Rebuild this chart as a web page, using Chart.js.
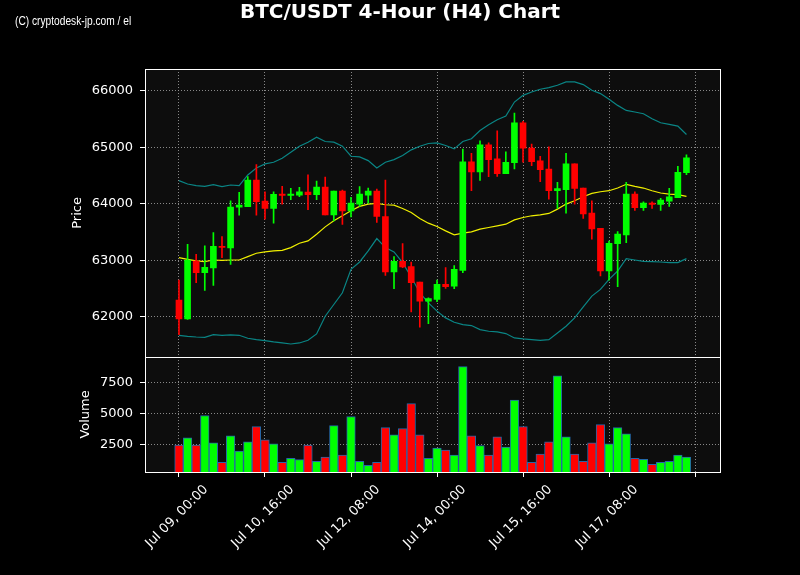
<!DOCTYPE html>
<html>
<head>
<meta charset="utf-8">
<title>BTC/USDT 4-Hour (H4) Chart</title>
<script src="https://cdn.jsdelivr.net/npm/chart.js@4.4.1/dist/chart.umd.min.js"></script>
<style>
  html, body { margin: 0; background: #000; }
  #wrap { position: relative; width: 800px; height: 575px; }
  #chart { position: absolute; left: 0; top: 0; }
  .title {
    position: absolute; left: 0; top: 1px; width: 800px; text-align: center;
    color: #fff; font: bold 20px/20px "DejaVu Sans", sans-serif;
  }
  .credit {
    position: absolute; left: 15px; top: 15px; color: #fff; white-space: nowrap;
    font: 12px/12px "Liberation Sans Narrow", "Liberation Sans", sans-serif;
    transform: scaleX(0.85); transform-origin: left top;
  }
</style>
</head>
<body>
<div id="wrap">
  <canvas id="chart" width="800" height="575"></canvas>
  <div class="title">BTC/USDT 4-Hour (H4) Chart</div>
  <div class="credit">(C) cryptodesk-jp.com / el</div>
</div>
<script>
// OHLC per 4h candle, starting Jul 09 00:00
const open = [62296, 61964, 62990, 62782, 62865, 63250, 63221, 63944, 63950, 64424,
  64050, 63920, 64175, 64150, 64157, 64210, 64163, 64299, 63807, 64228,
  63878, 63997, 64157, 64228, 63778, 62794, 62984, 62889, 62616, 62278,
  62308, 62575, 62545, 62824, 64744, 64566, 65046, 64797, 64536, 64732,
  65437, 64987, 64761, 64619, 64234, 64252, 64708, 64282, 63837, 63570,
  62812, 63298, 63452, 64175, 63932, 64015, 63991, 64050, 64110, 64554];
const high = [62652, 63286, 63108, 63256, 63493, 63422, 64056, 64204, 64483, 64696,
  64216, 64216, 64311, 64276, 64293, 64513, 64406, 64477, 64228, 64246,
  64116, 64305, 64281, 64264, 64424, 63067, 63298, 62972, 62616, 62338,
  62652, 62871, 62910, 64969, 64898, 65117, 65081, 65295, 64921, 65609,
  65461, 65058, 64844, 65010, 64382, 64898, 64708, 64282, 64056, 63570,
  63342, 63512, 64382, 64216, 64038, 64038, 64098, 64276, 64667, 64868];
const low = [61686, 61953, 62604, 62468, 62557, 63049, 62930, 63801, 63950, 63801,
  63730, 63659, 63997, 64074, 64127, 63896, 64074, 63807, 63701, 63636,
  63772, 63956, 64015, 63671, 62735, 62498, 62870, 62089, 61819, 61881,
  62267, 62504, 62498, 62782, 64234, 64418, 64483, 64489, 64536, 64619,
  64738, 64679, 64394, 64086, 63920, 63837, 63997, 63742, 63375, 62723,
  62649, 62533, 63316, 63885, 63885, 63920, 63885, 63956, 64110, 64519];
const close = [61964, 63007, 62782, 62877, 63250, 63230, 63944, 63980, 64424, 64038,
  63920, 64169, 64150, 64175, 64216, 64163, 64299, 63807, 64228, 63878,
  64015, 64175, 64228, 63778, 62794, 62984, 62883, 62604, 62278, 62326,
  62575, 62533, 62841, 64744, 64566, 65046, 64785, 64536, 64738, 65437,
  64987, 64750, 64607, 64234, 64270, 64708, 64276, 63825, 63559, 62812,
  63304, 63464, 64175, 63932, 64015, 63991, 64068, 64127, 64560, 64815];
const volume = [2500, 3074, 2500, 4877, 2664, 1107, 3238, 2008, 2746, 3975,
  2910, 2582, 1107, 1434, 1325, 2500, 1189, 1516, 4057, 1680,
  4795, 1189, 861, 1107, 3893, 3320, 3811, 5833, 3320, 1434,
  2254, 2090, 1680, 8811, 3238, 2445, 1680, 3156, 2336, 6106,
  3975, 1107, 1762, 2746, 8073, 3156, 1762, 1189, 2664, 4139,
  2582, 3893, 3402, 1434, 1352, 943, 1107, 1189, 1680, 1516];

// Bollinger bands
const bbUpper = [64412, 64353, 64323, 64311, 64341, 64305, 64335, 64323, 64513, 64637,
  64708, 64738, 64809, 64916, 65022, 65093, 65182, 65105, 65093, 65022,
  64844, 64833, 64767, 64637, 64738, 64785, 64856, 64957, 65022, 65070,
  65081, 65034, 64975, 65105, 65153, 65301, 65401, 65490, 65556, 65804,
  65923, 65982, 66030, 66059, 66101, 66160, 66160, 66113, 66012, 65953,
  65852, 65745, 65656, 65627, 65597, 65508, 65437, 65407, 65378, 65230];
const bbMid = [63049, 63019, 62990, 62978, 63007, 63001, 63007, 63007, 63067, 63126,
  63150, 63167, 63179, 63227, 63304, 63345, 63464, 63594, 63701, 63790,
  63878, 63956, 63997, 64009, 63985, 63979, 63920, 63849, 63742, 63659,
  63600, 63523, 63452, 63482, 63505, 63553, 63582, 63612, 63641, 63718,
  63760, 63790, 63807, 63831, 63908, 63997, 64056, 64127, 64187, 64216,
  64234, 64281, 64347, 64311, 64281, 64234, 64193, 64175, 64163, 64133];
const bbLower = [61674, 61656, 61644, 61638, 61686, 61674, 61680, 61674, 61621, 61597,
  61580, 61556, 61538, 61520, 61538, 61585, 61698, 62012, 62219, 62427,
  62842, 62972, 63167, 63387, 63227, 63150, 62960, 62705, 62427, 62249,
  62101, 61982, 61905, 61864, 61846, 61775, 61745, 61733, 61704, 61627,
  61609, 61597, 61585, 61597, 61716, 61834, 61982, 62178, 62367, 62486,
  62664, 62812, 63031, 63007, 62984, 62978, 62972, 62960, 62960, 63031];

const tickPos = [0, 10, 20, 30, 40, 50, 60];
const tickLabels = ['Jul 09, 00:00', 'Jul 10, 16:00', 'Jul 12, 08:00', 'Jul 14, 00:00',
  'Jul 15, 16:00', 'Jul 17, 08:00', ''];
const priceTicks = [62000, 63000, 64000, 65000, 66000];
const volumeTicks = [2500, 5000, 7500];

const UP = '#00ff00', DOWN = '#ff0000';
const colors = close.map((c, i) => c >= open[i] ? UP : DOWN);
const pts = arr => arr.map((v, i) => ({ x: i, y: v }));

Chart.defaults.font.family = '"DejaVu Sans", sans-serif';
Chart.defaults.font.size = 13;
Chart.defaults.color = '#fff';

const grid = { color: 'rgba(150,150,150,0.9)', lineWidth: 1, tickColor: '#fff',
  tickLength: 5, tickWidth: 1, tickBorderDash: [], offset: false };
const border = { display: false, dash: [1, 2] };

// dark plot background + white frame round each pane
const panes = {
  id: 'panes',
  beforeDraw(chart) {
    const { ctx, chartArea: a } = chart;
    ctx.save();
    ctx.fillStyle = '#0d0d0d';
    ctx.fillRect(a.left, a.top, a.right - a.left, a.bottom - a.top);
    ctx.restore();
  },
  afterDraw(chart) {
    const { ctx, chartArea: a } = chart;
    ctx.save();
    ctx.strokeStyle = '#fff';
    ctx.lineWidth = 1;
    ['y', 'vol'].forEach(id => {
      const s = chart.scales[id];
      ctx.strokeRect(Math.round(a.left) + 0.5, Math.round(s.top) + 0.5,
        Math.round(a.right - a.left), Math.round(s.bottom - s.top));
    });
    ctx.restore();
  }
};

new Chart(document.getElementById('chart'), {
  data: {
    datasets: [
      { type: 'bar', label: 'wick', data: low.map((l, i) => ({ x: i, y: [l, high[i]] })),
        backgroundColor: colors, barThickness: 1, grouped: false, yAxisID: 'y', order: 1 },
      { type: 'bar', label: 'body', data: open.map((o, i) => ({ x: i, y: [o, close[i]] })),
        backgroundColor: colors, barThickness: 6, minBarLength: 1, grouped: false, yAxisID: 'y', order: 0 },
      { type: 'line', label: 'BB upper', data: pts(bbUpper), borderColor: '#0a8585', borderWidth: 1.2,
        pointRadius: 0, yAxisID: 'y', order: 2 },
      { type: 'line', label: 'BB mid', data: pts(bbMid), borderColor: '#f0f000', borderWidth: 1.2,
        pointRadius: 0, yAxisID: 'y', order: 2 },
      { type: 'line', label: 'BB lower', data: pts(bbLower), borderColor: '#0a8585', borderWidth: 1.2,
        pointRadius: 0, yAxisID: 'y', order: 2 },
      { type: 'bar', label: 'Volume', data: pts(volume), backgroundColor: colors,
        borderColor: '#2468a8', borderWidth: 1, borderSkipped: false, barThickness: 8.6,
        grouped: false, yAxisID: 'vol', order: 0 }
    ]
  },
  options: {
    responsive: false,
    animation: false,
    layout: { padding: { top: 69, right: 80, left: 0, bottom: 0 } },
    plugins: { legend: { display: false }, tooltip: { enabled: false } },
    scales: {
      x: {
        type: 'linear', min: -3.95, max: 62.9, offset: false,
        afterBuildTicks: s => { s.ticks = tickPos.map(v => ({ value: v })); },
        afterFit: s => { s.height = 103; },
        ticks: { autoSkip: false, minRotation: 45, maxRotation: 45, labelOffset: 27, padding: 5,
          callback: (v, i) => tickLabels[i] },
        grid, border
      },
      vol: {
        stack: 'panes', stackWeight: 1, position: 'left', min: 323, max: 9597,
        afterBuildTicks: s => { s.ticks = volumeTicks.map(v => ({ value: v })); },
        afterFit: s => { s.width = 145; },
        ticks: { padding: 7, callback: v => String(v) },
        title: { display: true, text: 'Volume', padding: { top: 78, bottom: 0 } },
        grid, border
      },
      y: {
        stack: 'panes', stackWeight: 2.5, position: 'left', min: 61292, max: 66389,
        afterBuildTicks: s => { s.ticks = priceTicks.map(v => ({ value: v })); },
        afterFit: s => { s.width = 145; },
        ticks: { padding: 7, callback: v => String(v) },
        title: { display: true, text: 'Price', padding: { top: 70, bottom: 0 } },
        grid, border
      }
    }
  },
  plugins: [panes]
});
</script>
</body>
</html>
